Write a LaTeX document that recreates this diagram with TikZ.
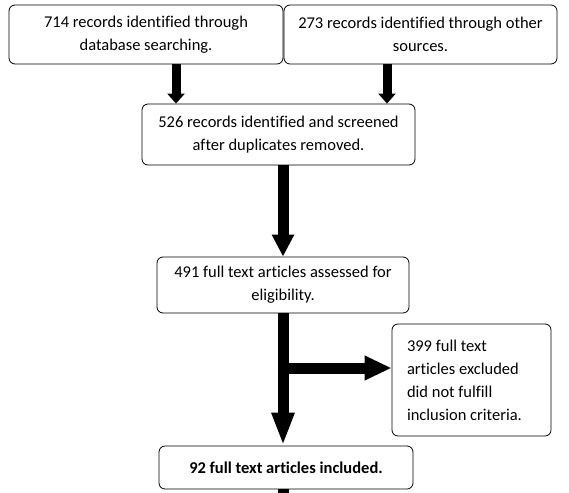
\documentclass[tikz,border=0pt]{standalone}
\usepackage{fontspec}
\setmainfont{Carlito}[Ligatures=NoCommon]
\usetikzlibrary{arrows.meta}
\tikzset{
  box/.style={draw, line width=0.8pt, rounded corners=6pt, align=center,
    inner sep=0pt, font=\fontsize{16.5}{23}\selectfont},
  thinarrow/.style={line width=9pt, -{Triangle[length=10pt,width=17pt]}},
  fatarrow/.style={line width=11pt, -{Triangle[length=22pt,width=21pt]}},
  longarrow/.style={line width=11pt, -{Triangle[length=33pt,width=21pt]}}
}
\begin{document}
\begin{tikzpicture}[x=1pt,y=-1pt]
\useasboundingbox (0,0) rectangle (569,492);
% the boxes
\node[box, minimum width=274pt, minimum height=59pt] (db) at (146,34.5)
  {714 records identified through\\database searching.};
\node[box, minimum width=273pt, minimum height=59pt] (other) at (420.5,34.5)
  {273 records identified through other\\sources.};
\node[box, minimum width=273pt, minimum height=61pt] (screened) at (278.5,134.5)
  {526 records identified and screened\\after duplicates removed.};
\node[box, minimum width=252pt, minimum height=56pt] (assessed) at (283,285)
  {491 full text articles assessed for\\eligibility.};
\node[box, align=flush left, text width=129pt, inner xsep=15pt, minimum height=112pt] (excluded) at (471.5,380)
  {399 full text\\articles excluded\\did not fulfill\\inclusion criteria.};
\node[box, font=\fontsize{16.5}{23}\selectfont\bfseries, minimum width=254pt, minimum height=43pt] (included) at (286,467.5)
  {92 full text articles included.};
% the arrows
\draw[thinarrow] ([xshift=30pt]db.south) -- ([xshift=30pt]db.south |- screened.north);
\draw[thinarrow] ([xshift=-33.5pt]other.south) -- ([xshift=-33.5pt]other.south |- screened.north);
\draw[fatarrow] (screened.south -| assessed.south) -- (assessed.north);
\draw[longarrow] (assessed.south) -- (assessed.south |- included.north);
\coordinate (split) at (283,368);
\draw[line width=11pt, -{Triangle[length=27pt,width=23pt]}] ([xshift=-5.5pt]split) -- (split -| excluded.west);
\coordinate (next) at (283,500);
\draw[line width=11pt] (included.south -| assessed.south) -- (next);
\end{tikzpicture}
\end{document}
